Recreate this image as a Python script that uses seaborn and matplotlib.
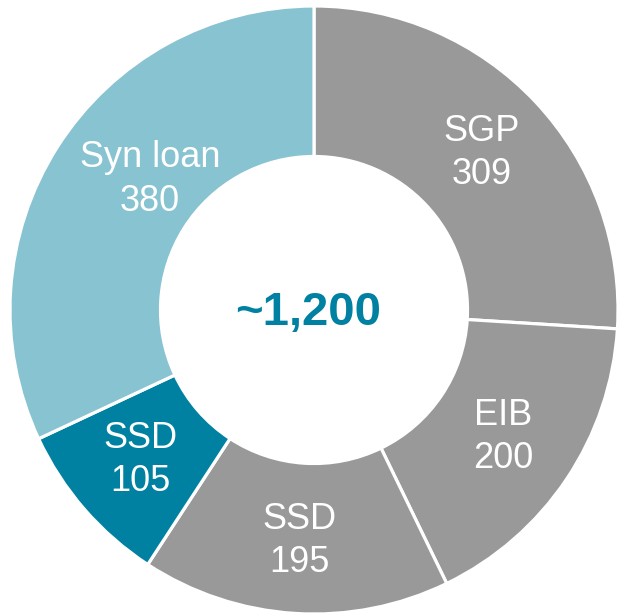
import numpy as np
import matplotlib
matplotlib.use("Agg")
import matplotlib.pyplot as plt
import seaborn as sns

# Funding sources (EUR m), clockwise from the top
categories = ["SGP", "EIB", "SSD", "SSD", "Syn loan"]
values = [309, 200, 195, 105, 380]
colors = ["#999999", "#999999", "#999999", "#0081A1", "#88C3D1"]
total_label = "~1,200"

# label placement inside the ring: radius and angular nudge (degrees)
label_radius = [0.755, 0.75, 0.76, 0.755, 0.69]
label_nudge = [0, 0, 0, 0, -6]

sns.set_theme(style="white")
plt.rcParams["font.family"] = ["Liberation Sans", "DejaVu Sans"]

fig = plt.figure(figsize=(6.19, 6.14), dpi=100)
ax = fig.add_axes([0, 0, 1, 1])

wedges, _ = ax.pie(
    values,
    colors=colors,
    startangle=90,
    counterclock=False,
    radius=1.0,
    wedgeprops=dict(width=0.495, edgecolor="white", linewidth=2.3),
)

for w, c, v, r, d in zip(wedges, categories, values, label_radius, label_nudge):
    ang = np.deg2rad((w.theta1 + w.theta2) / 2 + d)
    ax.text(r * np.cos(ang), r * np.sin(ang), f"{c}\n{v}", color="white",
            fontsize=26, ha="center", va="center", linespacing=1.3)

ax.text(-0.02, -0.01, total_label, ha="center", va="center", fontsize=34,
        fontweight="bold", color="#0081A1")

ax.set_aspect("equal")
ax.set_xlim(-314 / 304, (619 - 314) / 304)
ax.set_ylim(-304 / 304, 310 / 304)
ax.axis("off")

fig.savefig("out.png", dpi=100, facecolor="white")
